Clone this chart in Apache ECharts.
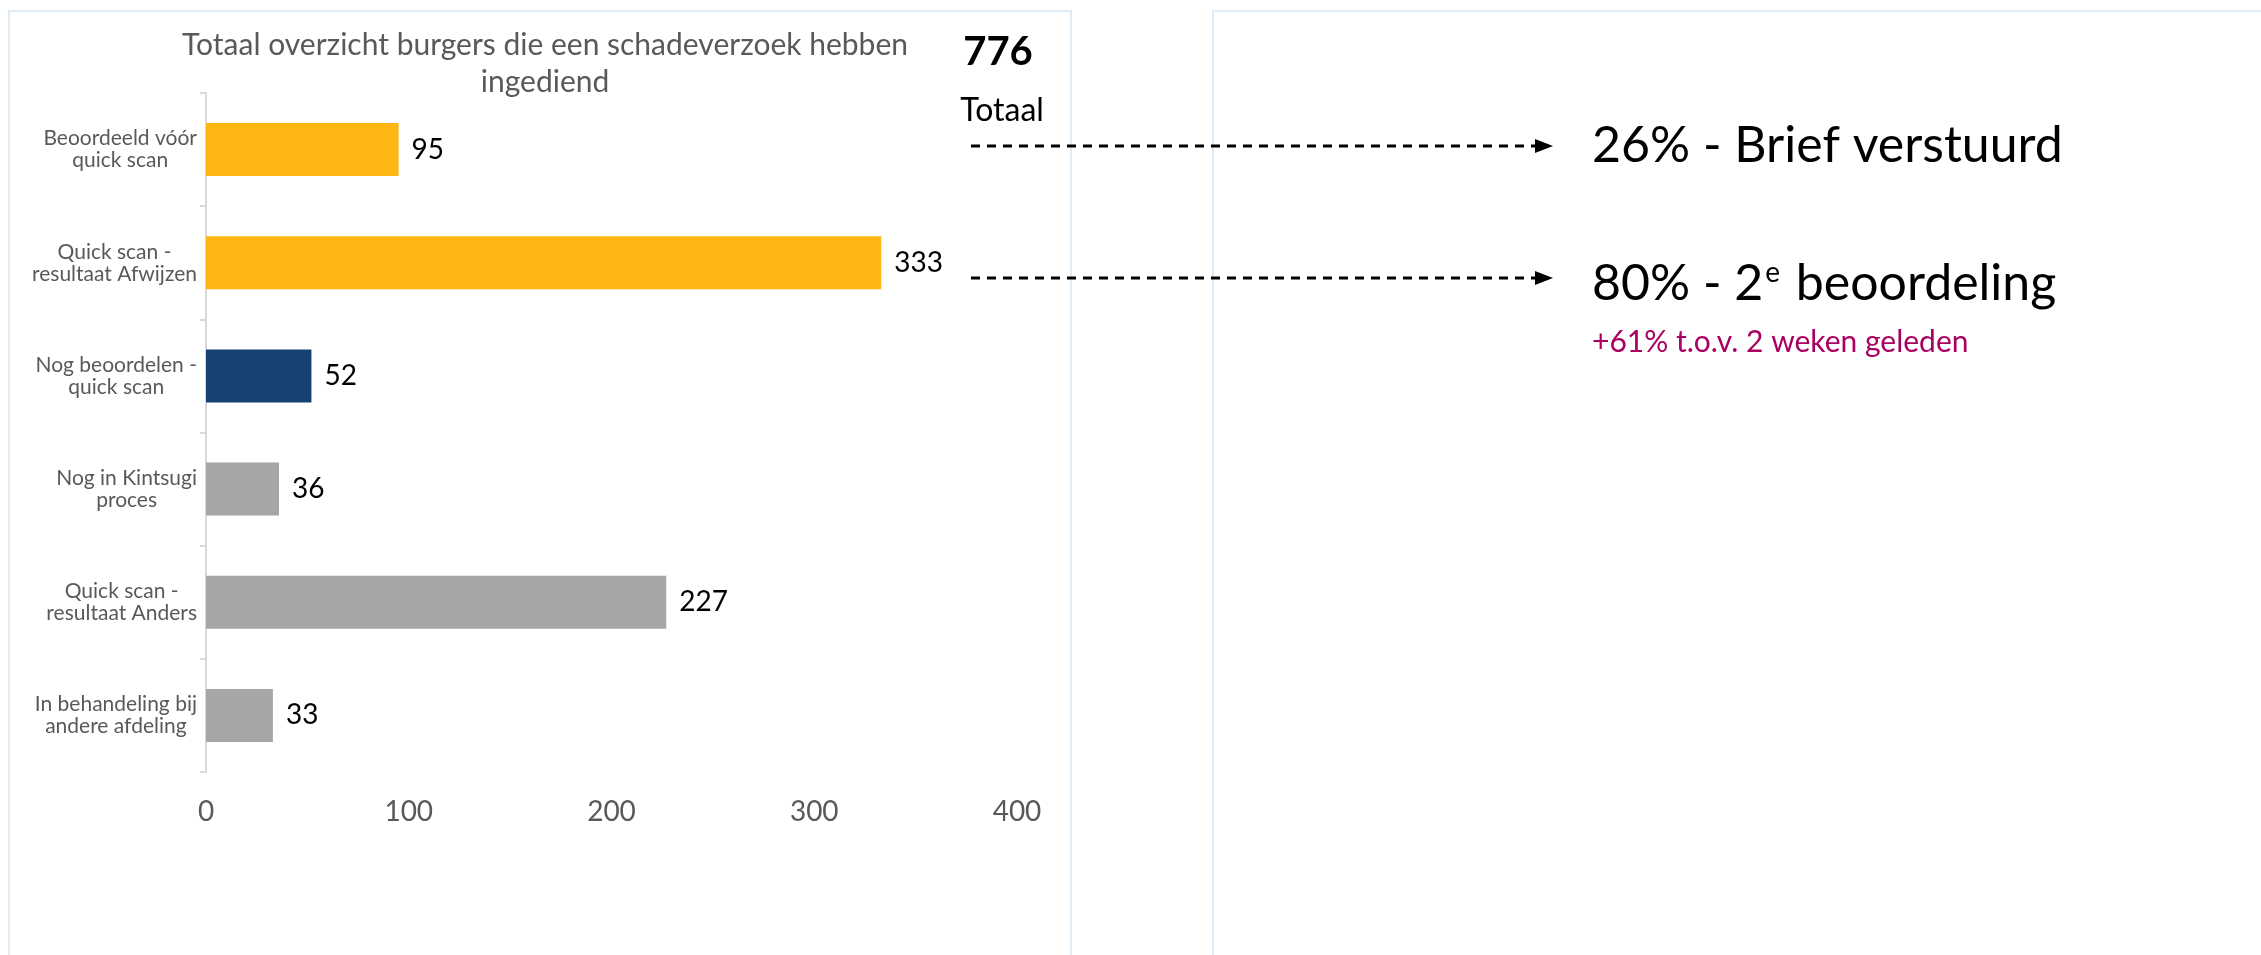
<!DOCTYPE html>
<html><head><meta charset="utf-8">
<script src="https://cdn.jsdelivr.net/npm/echarts@6/dist/echarts.min.js"></script>
<style>html,body{margin:0;padding:0;background:#fff;}#c{width:2261px;height:955px;}</style>
</head><body><div id="c"></div>
<script>
// ---- data ----
const categories = [
  'Beoordeeld vóór\nquick scan',
  'Quick scan -\nresultaat Afwijzen',
  'Nog beoordelen -\nquick scan',
  'Nog in Kintsugi\nproces',
  'Quick scan -\nresultaat Anders',
  'In behandeling bij\nandere afdeling'
];
const values = [95, 333, 52, 36, 227, 33];
const xTickLabels = ['0', '100', '200', '300', '400'];
const titleText = 'Totaal overzicht burgers die een schadeverzoek hebben\ningediend';
const totalValue = 776;
const totalLabel = 'Totaal';
const callout1 = '26% - Brief verstuurd';
const callout2Parts = ['80% - 2', 'e', ' beoordeling'];
const callout2Sub = '+61% t.o.v. 2 weken geleden';

// ---- styles ----
const barColors = ['#FFB612', '#FFB612', '#154273', '#A6A6A6', '#A6A6A6', '#A6A6A6'];
const FONT = 'Lato';
const GREY = '#595959';
const PANEL = '#DDECF6';
const CAT_FONT_SIZE = 21;

// measure label blocks so lines are centred inside a right-aligned block
const mctx = document.createElement('canvas').getContext('2d');
mctx.font = CAT_FONT_SIZE + 'px ' + FONT;
const yAxisData = categories.map(c => {
  const w = Math.max(...c.split('\n').map(s => mctx.measureText(s).width));
  return {value: c, textStyle: {
    align: 'center', padding: [0, w, 0, 0],
    color: GREY, fontSize: CAT_FONT_SIZE, fontFamily: FONT, lineHeight: 22
  }};
});

const chart = echarts.init(document.getElementById('c'), null, {renderer: 'canvas'});
const xMax = Number(xTickLabels[xTickLabels.length - 1]);
const xStep = Number(xTickLabels[1]) - Number(xTickLabels[0]);

chart.setOption({
  backgroundColor: '#fff',
  animation: false,
  grid: {left: 206, right: 1244, top: 93, bottom: 183, containLabel: false, outerBoundsMode: 'none'},
  xAxis: {
    type: 'value', min: 0, max: xMax, interval: xStep,
    axisLine: {show: false}, axisTick: {show: false}, splitLine: {show: false},
    axisLabel: {color: GREY, fontSize: 28, fontFamily: FONT, margin: 26}
  },
  yAxis: {
    type: 'category', data: yAxisData, inverse: true,
    axisLine: {show: true, lineStyle: {color: '#D9D9D9', width: 2}},
    axisTick: {show: true, length: 6, lineStyle: {color: '#D9D9D9', width: 2}},
    axisLabel: {
      align: 'center', margin: 9,
      color: GREY, fontSize: CAT_FONT_SIZE, fontFamily: FONT, lineHeight: 22
    }
  },
  series: [{
    type: 'bar', data: values, barWidth: 53,
    itemStyle: {color: p => barColors[p.dataIndex]},
    label: {show: true, position: 'right', distance: 13, color: '#000', fontSize: 28, fontFamily: FONT}
  }],
  graphic: [
    {type: 'rect', silent: true, z: -1, shape: {x: 9, y: 11, width: 1062, height: 1100},
      style: {fill: 'none', stroke: PANEL, lineWidth: 2}},
    {type: 'rect', silent: true, z: -1, shape: {x: 1213, y: 11, width: 1200, height: 1100},
      style: {fill: 'none', stroke: PANEL, lineWidth: 2}},
    {type: 'text', silent: true, style: {text: titleText, x: 545, y: 64, align: 'center', verticalAlign: 'middle',
      textAlign: 'center', textVerticalAlign: 'middle', fill: GREY, font: '30px ' + FONT, lineHeight: 37}},
    {type: 'text', silent: true, style: {text: String(totalValue), x: 998, y: 52, align: 'center', verticalAlign: 'middle',
      textAlign: 'center', textVerticalAlign: 'middle', fill: '#000', font: 'bold 40px ' + FONT}},
    {type: 'text', silent: true, style: {text: totalLabel, x: 1002, y: 111, align: 'center', verticalAlign: 'middle',
      textAlign: 'center', textVerticalAlign: 'middle', fill: '#000', font: '32px ' + FONT}},
    {type: 'line', silent: true, shape: {x1: 971, y1: 146, x2: 1538, y2: 146},
      style: {stroke: '#000', lineWidth: 3, lineDash: [9, 7]}},
    {type: 'polygon', silent: true, shape: {points: [[1535, 139], [1553, 146], [1535, 153]]}, style: {fill: '#000'}},
    {type: 'line', silent: true, shape: {x1: 971, y1: 278, x2: 1538, y2: 278},
      style: {stroke: '#000', lineWidth: 3, lineDash: [9, 7]}},
    {type: 'polygon', silent: true, shape: {points: [[1535, 271], [1553, 278], [1535, 285]]}, style: {fill: '#000'}},
    {type: 'text', silent: true, style: {text: callout1, x: 1592, y: 146, align: 'left', verticalAlign: 'middle',
      textAlign: 'left', textVerticalAlign: 'middle', fill: '#000', font: '50px ' + FONT}},
    {type: 'text', silent: true, style: {
      text: '{n|' + callout2Parts[0] + '}{s|' + callout2Parts[1] + '}{n|' + callout2Parts[2] + '}',
      x: 1592, y: 284, align: 'left', verticalAlign: 'middle', textAlign: 'left', textVerticalAlign: 'middle',
      fill: '#000', font: '50px ' + FONT,
      rich: {
        n: {fontSize: 50, fontFamily: FONT, fill: '#000', lineHeight: 50},
        s: {fontSize: 28, fontFamily: FONT, fill: '#000', verticalAlign: 'top', lineHeight: 28, padding: [0, 3, 0, 2]}
      }}},
    {type: 'text', silent: true, style: {text: callout2Sub, x: 1592, y: 342, align: 'left', verticalAlign: 'middle',
      textAlign: 'left', textVerticalAlign: 'middle', fill: '#A90061', font: '30px ' + FONT}}
  ]
});
</script></body></html>
